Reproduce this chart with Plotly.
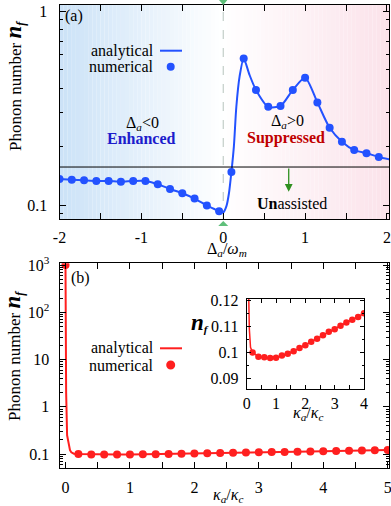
import math
import plotly.graph_objects as go

SERIF = "Liberation Serif"
W, H = 391, 506

# ---- panel (a): phonon number vs detuning ----
det_num = [-2.0, -1.85, -1.7, -1.55, -1.4, -1.25, -1.1, -0.95, -0.8, -0.65, -0.5, -0.35,
           -0.2, -0.05, 0.1, 0.25, 0.4, 0.55, 0.7, 0.85, 1.0, 1.15, 1.3, 1.45, 1.6, 1.75, 1.9]
nf_num_a = [0.136, 0.135, 0.134, 0.133, 0.133, 0.132, 0.133, 0.133, 0.128, 0.121, 0.115, 0.108,
            0.0994, 0.093, 0.148, 0.570, 0.392, 0.321, 0.324, 0.392, 0.453, 0.338, 0.250,
            0.212, 0.192, 0.185, 0.177]

det_an = [-2.0, -1.85, -1.7, -1.55, -1.4, -1.25, -1.1, -0.95, -0.8, -0.65, -0.5, -0.35,
          -0.2, -0.1, -0.05, 0.0, 0.04, 0.07, 0.1, 0.13, 0.16, 0.2, 0.25, 0.32, 0.4, 0.55,
          0.7, 0.85, 1.0, 1.15, 1.3, 1.45, 1.6, 1.75, 1.9, 2.03]
nf_an_a = [0.136, 0.135, 0.134, 0.133, 0.133, 0.132, 0.133, 0.133, 0.128, 0.121, 0.115, 0.108,
           0.0994, 0.095, 0.093, 0.0915, 0.099, 0.115, 0.148, 0.2, 0.32, 0.46, 0.570, 0.47,
           0.392, 0.321, 0.324, 0.392, 0.453, 0.338, 0.250, 0.212, 0.192, 0.185, 0.177, 0.172]

unassisted = 0.157

# ---- panel (b): phonon number vs kappa_a/kappa_c ----
kappa_num = [0.0, 0.2, 0.4, 0.6, 0.8, 1.0, 1.2, 1.4, 1.6, 1.8, 2.0, 2.2, 2.4, 2.6, 2.8,
             3.0, 3.2, 3.4, 3.6, 3.8, 4.0, 4.2, 4.4, 4.6, 4.8, 5.0]
nf_num_b = [1000, 0.1000, 0.0984, 0.0982, 0.0979, 0.0980, 0.0988, 0.0995, 0.1005, 0.1017,
            0.1028, 0.1041, 0.1053, 0.1066, 0.1079, 0.1089, 0.1102, 0.1115, 0.1125, 0.1136,
            0.1150, 0.1163, 0.1176, 0.1189, 0.1202, 0.1215]

kappa_an = [0.0, 0.004, 0.01, 0.025, 0.045, 0.07, 0.09, 0.13, 0.2, 0.4, 0.6, 0.8, 1.0, 1.2,
            1.4, 1.6, 1.8, 2.0, 2.2, 2.4, 2.6, 2.8, 3.0, 3.2, 3.4, 3.6, 3.8, 4.0, 4.2, 4.4,
            4.6, 4.8, 5.0]
nf_an_b = [1000, 50, 2, 0.25, 0.165, 0.121, 0.109, 0.102, 0.1000, 0.0984, 0.0982, 0.0979,
           0.0980, 0.0988, 0.0995, 0.1005, 0.1017, 0.1028, 0.1041, 0.1053, 0.1066, 0.1079,
           0.1089, 0.1102, 0.1115, 0.1125, 0.1136, 0.1150, 0.1163, 0.1176, 0.1189, 0.1202,
           0.1215]

BLUE = "#2352ff"
RED = "#ff1f1f"
GREEN_TRI = "#5fbf7a"
GREEN_ARROW = "#2f8f1f"


def px(x):
    return x / W


def py(y):
    return 1 - y / H


fig = go.Figure()

# panel (a)
fig.add_trace(go.Scatter(x=det_an, y=nf_an_a, mode="lines", line=dict(color=BLUE, width=2, shape="spline", smoothing=0.7),
                         xaxis="x", yaxis="y", showlegend=False))
fig.add_trace(go.Scatter(x=det_num, y=nf_num_a, mode="markers", marker=dict(color=BLUE, size=8),
                         xaxis="x", yaxis="y", showlegend=False))

# panel (b)
fig.add_trace(go.Scatter(x=kappa_an, y=nf_an_b, mode="lines", line=dict(color=RED, width=2),
                         xaxis="x2", yaxis="y2", showlegend=False))
fig.add_trace(go.Scatter(x=kappa_num, y=nf_num_b, mode="markers", marker=dict(color=RED, size=8),
                         xaxis="x2", yaxis="y2", showlegend=False))

# inset
fig.add_trace(go.Scatter(x=kappa_an, y=nf_an_b, mode="lines", line=dict(color=RED, width=1.5),
                         xaxis="x3", yaxis="y3", showlegend=False))
fig.add_trace(go.Scatter(x=[k for k in kappa_num if 0 < k <= 4.0],
                         y=[v for k, v in zip(kappa_num, nf_num_b) if 0 < k <= 4.0],
                         mode="markers", marker=dict(color=RED, size=6.5),
                         xaxis="x3", yaxis="y3", showlegend=False))

axis = dict(showline=True, linecolor="black", linewidth=1, mirror="allticks", ticks="inside",
            ticklen=6, tickcolor="black", tickwidth=1, showgrid=False, zeroline=False,
            automargin=False, ticklabeloverflow="allow",
            tickfont=dict(family=SERIF, size=16, color="black"))
minor = dict(ticks="inside", ticklen=3, tickcolor="black", showgrid=False)

dec_minor = lambda lo: [lo * m for m in range(2, 10)]

fig.update_layout(
    width=W, height=H, margin=dict(l=0, r=0, t=0, b=0),
    paper_bgcolor="white", plot_bgcolor="white",
    font=dict(family=SERIF, size=16, color="black"),
    xaxis=dict(axis, domain=[px(59.5), px(389)], range=[-2.0, 2.025], anchor="y",
               tickvals=[-2, -1.5, -1, -0.5, 0, 0.5, 1, 1.5, 2],
               ticktext=["-2", "", "-1", "", "0", "", "1", "", "2"], ticklabelstandoff=4),
    yaxis=dict(axis, domain=[py(219), py(5)], type="log", range=[-1.072, 0.031], anchor="x",
               tickvals=[0.1, 1], ticktext=["0.1", "1"], ticklabelstandoff=8,
               minor=dict(minor, tickvals=[0.09] + dec_minor(0.1))),
    xaxis2=dict(axis, domain=[px(59.5), px(389)], range=[-0.093, 5.02], anchor="y2",
                tickvals=[0, 0.5, 1, 1.5, 2, 2.5, 3, 3.5, 4, 4.5, 5],
                ticktext=["0", "", "1", "", "2", "", "3", "", "4", "", "5"], ticklabelstandoff=4),
    yaxis2=dict(axis, domain=[py(468.3), py(263.3)], type="log", range=[-1.30, 3.036], anchor="x2",
                tickvals=[0.1, 1, 10, 100, 1000],
                ticktext=["0.1", "1", "10", "10<sup>2</sup>", "10<sup>3</sup>"], ticklabelstandoff=6,
                minor=dict(minor, tickvals=[0.06, 0.07, 0.08, 0.09] + dec_minor(0.1) + dec_minor(1)
                           + dec_minor(10) + dec_minor(100))),
    xaxis3=dict(axis, domain=[px(246.7), px(364)], range=[0, 4.0], anchor="y3",
                tickvals=[0, 0.5, 1, 1.5, 2, 2.5, 3, 3.5, 4],
                ticktext=["0", "", "1", "", "2", "", "3", "", "4"], ticklen=4, ticklabelstandoff=0),
    yaxis3=dict(axis, domain=[py(389), py(299)], range=[0.086, 0.1205], anchor="x3",
                tickvals=[0.09, 0.1, 0.11, 0.12], ticktext=["0.09", "0.1", "0.11", "0.12"],
                ticklen=4, ticklabelstandoff=4,
                minor=dict(minor, tickvals=[0.095, 0.105, 0.115], ticklen=2)),
)

# background gradient of panel (a): blue on the left fading to white at 0, pink on the right
shapes = []
n_steps = 40
left_col, right_col = (203, 226, 247), (251, 226, 234)
x_lo, x_hi = -2.0, 2.025
for i in range(n_steps):
    a0 = x_lo + (0 - x_lo) * i / n_steps
    a1 = x_lo + (0 - x_lo) * (i + 1) / n_steps
    t = 1 - (i + 0.5) / n_steps
    c = tuple(int(round(255 + (lc - 255) * t)) for lc in left_col)
    shapes.append(dict(type="rect", xref="x", yref="y domain", x0=a0, x1=a1, y0=0, y1=1,
                       fillcolor="rgb(%d,%d,%d)" % c, line=dict(width=0), layer="below"))
    b0 = x_hi * i / n_steps
    b1 = x_hi * (i + 1) / n_steps
    t = (i + 0.5) / n_steps
    c = tuple(int(round(255 + (rc - 255) * t)) for rc in right_col)
    shapes.append(dict(type="rect", xref="x", yref="y domain", x0=b0, x1=b1, y0=0, y1=1,
                       fillcolor="rgb(%d,%d,%d)" % c, line=dict(width=0), layer="below"))

# dashed marker at zero detuning and the unassisted level
shapes.append(dict(type="line", xref="x", yref="y domain", x0=0, x1=0, y0=0, y1=1,
                   line=dict(color="#b7c4bd", width=1, dash="dash"), layer="below"))
shapes.append(dict(type="line", xref="x domain", yref="y", x0=0, x1=1, y0=unassisted, y1=unassisted,
                   line=dict(color="black", width=1)))
# green triangles at zero detuning
shapes.append(dict(type="path", xref="x", yref="y domain", xsizemode="pixel", ysizemode="pixel",
                   xanchor=0, yanchor=1, path="M -5,6 L 5,6 L 0,0 Z",
                   fillcolor=GREEN_TRI, line=dict(width=0)))
shapes.append(dict(type="path", xref="x", yref="y domain", xsizemode="pixel", ysizemode="pixel",
                   xanchor=0, yanchor=0, path="M -5,-7 L 5,-7 L 0,-2 Z",
                   fillcolor=GREEN_TRI, line=dict(width=0)))

# legend glyphs
for y_line, y_dot, col, r in [(50.7, 66.7, BLUE, 4), (348.3, 365, RED, 4.5)]:
    shapes.append(dict(type="line", xref="paper", yref="paper", x0=px(160), x1=px(182),
                       y0=py(y_line), y1=py(y_line), line=dict(color=col, width=2)))
    shapes.append(dict(type="circle", xref="paper", yref="paper", x0=px(170.7 - r), x1=px(170.7 + r),
                       y0=py(y_dot + r), y1=py(y_dot - r), fillcolor=col, line=dict(width=0)))
fig.update_layout(shapes=shapes)


def note(x, y, text, size=16, color="black", xanchor="center", angle=0):
    fig.add_annotation(x=px(x), y=py(y), xref="paper", yref="paper", text=text, showarrow=False,
                       xanchor=xanchor, yanchor="middle", textangle=angle,
                       font=dict(family=SERIF, size=size, color=color))


nf_title = "Phonon number <span style='font-size:23px'><b><i>n</i></b></span><sub><b><i>f</i></b></sub>"
note(14, 86, nf_title, size=17, angle=-90)
note(13, 356, nf_title, size=17, angle=-90)
note(73.5, 16, "(a)")
note(80, 277.5, "(b)")
note(156, 50.7, "analytical", xanchor="right")
note(156, 66.7, "numerical", xanchor="right")
note(156, 348.3, "analytical", xanchor="right")
note(156, 365, "numerical", xanchor="right")
note(142.5, 123.3, "Δ<sub><i>a</i></sub>&lt;0")
note(141, 138.3, "<b>Enhanced</b>", color="#1c1ccc")
note(287, 121.7, "Δ<sub><i>a</i></sub>&gt;0")
note(286, 138.3, "<b>Suppressed</b>", color="#c00000")
note(291.7, 203.3, "<b>Un</b>assisted")
note(226.7, 249, "Δ<sub><i>a</i></sub>/<i>ω</i><sub><i>m</i></sub>")
note(228.3, 495, "<i>κ</i><sub><i>a</i></sub>/<i>κ</i><sub><i>c</i></sub>")
note(308.3, 413, "<i>κ</i><sub><i>a</i></sub>/<i>κ</i><sub><i>c</i></sub>")
note(200, 322, "<span style='font-size:23px'><b><i>n</i></b></span><sub><b><i>f</i></b></sub>", size=16)

# arrow from the unassisted level
fig.add_annotation(x=0.8, y=math.log10(0.117), ax=0.8, ay=math.log10(unassisted), xref="x", yref="y",
                   axref="x", ayref="y", text="", showarrow=True, arrowhead=2, arrowsize=1.2,
                   arrowwidth=1.3, arrowcolor=GREEN_ARROW)

# the page body has a default 8px margin; remove it so the figure fills the window
fig.write_html("out.html", config={"displayModeBar": False},
               post_script="document.body.style.margin='0';document.body.style.padding='0';")
